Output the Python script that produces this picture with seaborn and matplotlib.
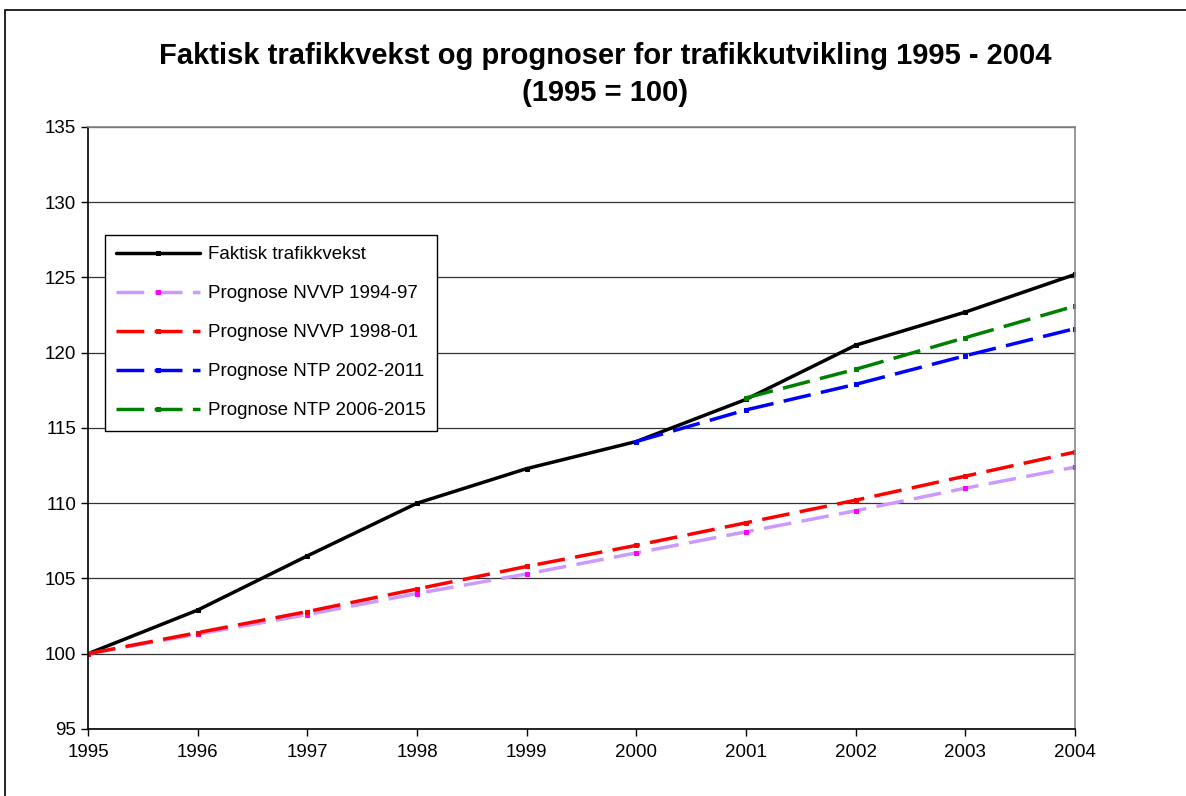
import numpy as np
import pandas as pd
import matplotlib
matplotlib.use("Agg")
import matplotlib.pyplot as plt
import seaborn as sns
from matplotlib.patches import Rectangle

years = [1995, 1996, 1997, 1998, 1999, 2000, 2001, 2002, 2003, 2004]

faktisk = [100.0, 102.9, 106.5, 110.0, 112.3, 114.1, 116.9, 120.5, 122.7, 125.2]
nvvp_94 = [100.0, 101.3, 102.6, 104.0, 105.3, 106.7, 108.1, 109.5, 111.0, 112.4]
nvvp_98 = [100.0, 101.4, 102.8, 104.3, 105.8, 107.2, 108.7, 110.2, 111.8, 113.4]
ntp_02_years = [2000, 2001, 2002, 2003, 2004]
ntp_02 = [114.1, 116.2, 117.9, 119.8, 121.6]
ntp_06_years = [2001, 2002, 2003, 2004]
ntp_06 = [117.0, 118.9, 121.0, 123.1]

sns.set_style("white")
plt.rcParams["font.family"] = ["Liberation Sans", "DejaVu Sans"]
plt.rcParams["text.color"] = "black"

fig = plt.figure(figsize=(11.86, 7.96), dpi=100)
ax = fig.add_axes([0.0742, 0.0842, 0.8322, 0.7563])

series = [
    ("Faktisk trafikkvekst", years, faktisk, "black", "black", None),
    ("Prognose NVVP 1994-97", years, nvvp_94, "#CC99FF", "#FF00FF", (8, 3)),
    ("Prognose NVVP 1998-01", years, nvvp_98, "#FF0000", "#FF0000", (8, 3)),
    ("Prognose NTP 2002-2011", ntp_02_years, ntp_02, "#0000FF", "#0000FF", (8, 3)),
    ("Prognose NTP 2006-2015", ntp_06_years, ntp_06, "#008000", "#008000", (8, 3)),
]

for label, xs, ys, col, mcol, dash in series:
    df = pd.DataFrame({"year": xs, "value": ys})
    sns.lineplot(data=df, x="year", y="value", ax=ax, color=col, lw=2.5,
                 marker="s", markersize=2.5, markerfacecolor=mcol,
                 markeredgecolor=mcol, label=label)
    line = ax.get_lines()[-1]
    if dash is not None:
        line.set_dashes(dash)

ax.set_xlim(1995, 2004)
ax.set_ylim(95, 135)
ax.set_xticks(years)
ax.set_yticks(np.arange(95, 136, 5))
ax.set_xlabel("")
ax.set_ylabel("")
ax.tick_params(axis="both", labelsize=13.5, direction="out", length=5, width=1,
               left=True, bottom=True, colors="black")
ax.tick_params(axis="x", pad=6)
ax.yaxis.grid(True, color="#333333", lw=0.9)
ax.set_axisbelow(True)
for s in ["left", "bottom"]:
    ax.spines[s].set_color("black")
    ax.spines[s].set_linewidth(1.2)
for s in ["top", "right"]:
    ax.spines[s].set_color("#888888")
    ax.spines[s].set_linewidth(1.2)

leg = ax.legend(loc="upper left", bbox_to_anchor=(0.017, 0.821), borderaxespad=0,
                fontsize=13.5, handlelength=4.5, labelspacing=1.17, numpoints=1,
                fancybox=False, framealpha=1, edgecolor="black",
                borderpad=0.6, handletextpad=0.4)
leg.get_frame().set_linewidth(1.0)
for t in leg.get_texts():
    t.set_color("black")
for h in leg.get_lines():
    h.set_markersize(3)

fig.text(0.51, 0.93, "Faktisk trafikkvekst og prognoser for trafikkutvikling 1995 - 2004",
         ha="center", va="center", fontsize=21, fontweight="bold")
fig.text(0.51, 0.883, "(1995 = 100)", ha="center", va="center",
         fontsize=21, fontweight="bold")

fig.patches.append(Rectangle((0.004, -0.01), 1.1, 0.998, transform=fig.transFigure,
                             fill=False, edgecolor="black", lw=1.2))

fig.savefig("out.png", dpi=100)
